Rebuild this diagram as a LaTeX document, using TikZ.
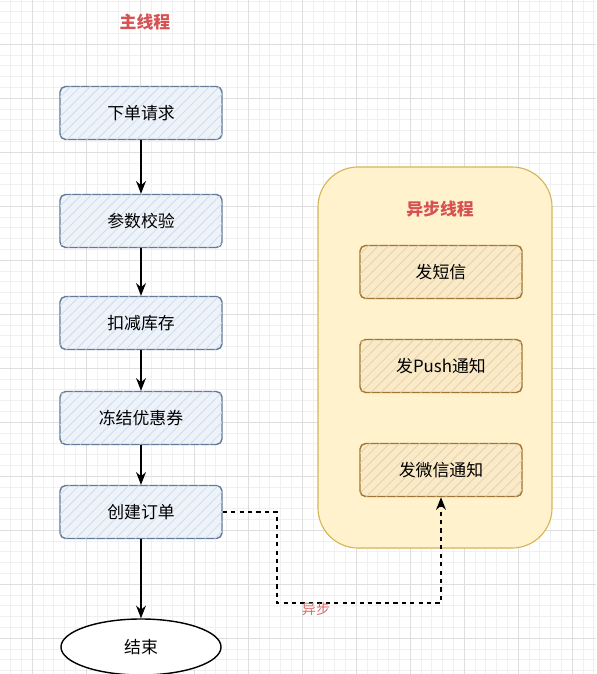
\documentclass[tikz,border=0pt]{standalone}
\usepackage{fontspec}
\newfontfamily\cjk{Noto Sans CJK SC}
\usetikzlibrary{arrows.meta,positioning,patterns.meta,shapes.geometric}
\definecolor{titlered}{RGB}{214,82,82}
\definecolor{bluefill}{RGB}{238,243,250}
\definecolor{bluehatch}{RGB}{206,220,238}
\definecolor{blueline}{RGB}{100,122,150}
\definecolor{yelfill}{RGB}{255,242,204}
\definecolor{yelline}{RGB}{214,182,86}
\definecolor{orfill}{RGB}{250,234,200}
\definecolor{orhatch}{RGB}{230,210,170}
\definecolor{orline}{RGB}{160,118,50}
\tikzset{
  mainbox/.style={draw=blueline, line width=1pt, rounded corners=4pt, fill=bluefill,
    postaction={pattern={Lines[angle=45,distance=5pt,line width=0.6pt]}, pattern color=bluehatch},
    minimum width=4.05cm, minimum height=1.325cm, font=\cjk\large},
  asyncbox/.style={draw=orline, line width=1pt, rounded corners=4pt, fill=orfill,
    postaction={pattern={Lines[angle=45,distance=5pt,line width=0.6pt]}, pattern color=orhatch},
    minimum width=4.05cm, minimum height=1.325cm, font=\cjk\large},
  threadtitle/.style={text=titlered, font=\cjk\bfseries\large},
  flow/.style={-{Stealth[length=9pt,width=7pt]}, line width=1pt},
  minorline/.style={draw=black!6, line width=0.4pt},
  majorline/.style={draw=black!13, line width=0.5pt}
}
\begin{document}
\begin{tikzpicture}[x=0.025cm, y=-0.025cm]
\useasboundingbox (0,0) rectangle (596,674);
\clip (0,0) rectangle (596,674);
\fill[white] (0,0) rectangle (596,674);
% grid
\foreach \i in {-3,...,52} \draw[minorline] ({32+10.8*\i},0) -- ({32+10.8*\i},674);
\foreach \j in {-5,...,59} \draw[minorline] (0,{44+10.8*\j}) -- (596,{44+10.8*\j});
\foreach \i in {-1,...,10} \draw[majorline] ({32+54*\i},0) -- ({32+54*\i},674);
\foreach \j in {-1,...,12} \draw[majorline] (0,{44+54*\j}) -- (596,{44+54*\j});
% main thread
\node[threadtitle] (maintitle) at (145,22) {主线程};
\node[mainbox] (order) at (141,113) {下单请求};
\node[mainbox] (check) at (141,221) {参数校验};
\node[mainbox] (stock) at (141,323) {扣减库存};
\node[mainbox] (coupon) at (141,418) {冻结优惠券};
\node[mainbox] (create) at (141,512) {创建订单};
\node[draw, ellipse, line width=1pt, fill=white, minimum width=4cm, minimum height=1.4cm, font=\cjk\large] (finish) at (141,647) {结束};
\draw[flow] (order) -- (check);
\draw[flow] (check) -- (stock);
\draw[flow] (stock) -- (coupon);
\draw[flow] (coupon) -- (create);
\draw[flow] (create) -- (finish);
% async thread
\draw[draw=yelline, fill=yelfill, line width=0.8pt, rounded corners=1cm] (318,167) rectangle (552,548);
\node[threadtitle] (asynctitle) at (440,209) {异步线程};
\node[asyncbox] (sms) at (441,272) {发短信};
\node[asyncbox] (push) at (441,366) {发Push通知};
\node[asyncbox] (wechat) at (441,470) {发微信通知};
% async call
\coordinate (turnA) at (277,512);
\coordinate (turnB) at (277,603);
\coordinate (turnC) at (441,603);
\draw[flow, dashed] (create.east) -- (turnA) -- (turnB) -- (turnC) -- (wechat.south);
\node[text=titlered!85, font=\cjk] (asynclabel) at (316,609) {异步};
\end{tikzpicture}
\end{document}
